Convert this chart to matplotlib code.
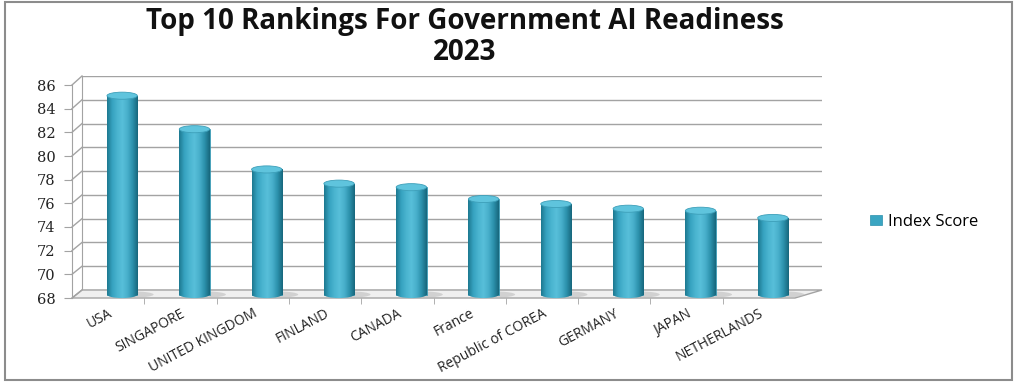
import numpy as np
import matplotlib
matplotlib.use('Agg')
import matplotlib.pyplot as plt
from matplotlib.patches import Ellipse, Polygon, Rectangle
from matplotlib.lines import Line2D
from matplotlib.colors import LinearSegmentedColormap

countries = ['USA', 'SINGAPORE', 'UNITED KINGDOM', 'FINLAND', 'CANADA', 'France',
             'Republic of COREA', 'GERMANY', 'JAPAN', 'NETHERLANDS']
scores = [84.80, 81.97, 78.57, 77.37, 77.07, 76.07, 75.65, 75.25, 75.08, 74.47]
y_ticks = list(range(68, 87, 2))
series_name = 'Index Score'
title = 'Top 10 Rankings For Government AI Readiness\n2023'

W, H = 1016, 382
fig = plt.figure(figsize=(W / 100, H / 100), dpi=100)


def box(x0, y0, x1, y1):
    # pixel box (origin top-left) -> figure fraction rect
    return [x0 / W, 1 - y1 / H, (x1 - x0) / W, (y1 - y0) / H]


def to_fig(ax, x, y):
    return fig.transFigure.inverted().transform(ax.transData.transform((x, y)))


grid_col = '#a3a3a3'
x = np.arange(len(countries))
xlim = (-0.5, len(countries) - 0.5)

# back wall with gridlines
back = fig.add_axes(box(82, 76, 822, 290), zorder=0)
back.set_xlim(*xlim)
back.set_ylim(68, 86)
back.set_yticks(y_ticks)
back.set_xticks([])
back.grid(axis='y', color=grid_col, lw=1)
back.tick_params(left=False, labelleft=False)
for s in ['top', 'right', 'bottom']:
    back.spines[s].set_visible(False)
back.spines['left'].set_color(grid_col)
back.patch.set_alpha(0)

# front plane: ticks and labels
front = fig.add_axes(box(72, 85, 795, 298), zorder=2)
front.set_xlim(*xlim)
front.set_ylim(68, 86)
front.patch.set_alpha(0)
for s in ['top', 'right', 'bottom']:
    front.spines[s].set_visible(False)
front.spines['left'].set_color(grid_col)
front.set_yticks(y_ticks)
front.set_yticklabels([str(v) for v in y_ticks], family='DejaVu Serif', fontsize=10.5)
front.tick_params(axis='y', length=6, color=grid_col, pad=6, labelcolor='#222222')
front.set_xticks(x)
front.set_xticklabels(countries, rotation=28, ha='right', rotation_mode='anchor',
                      family='Open Sans', fontsize=10, color='#222222')
front.set_xticks(np.arange(0.5, len(countries) - 0.5, 1), minor=True)
front.tick_params(axis='x', which='major', length=0, pad=6)
front.tick_params(axis='x', which='minor', length=4, color=grid_col)

# left wall depth lines
for v in y_ticks:
    p1 = to_fig(front, xlim[0], v)
    p2 = to_fig(back, xlim[0], v)
    fig.add_artist(Line2D([p1[0], p2[0]], [p1[1], p2[1]], color=grid_col, lw=1, zorder=0.6))

# floor
floor = [to_fig(front, xlim[0], 68), to_fig(front, xlim[1], 68),
         to_fig(back, xlim[1], 68), to_fig(back, xlim[0], 68)]
fig.add_artist(Polygon(floor, closed=True, transform=fig.transFigure,
                       facecolor='#efefef', edgecolor=grid_col, lw=1, zorder=0.5))

# bars (middle depth plane)
mid = fig.add_axes(box(86, 81.5, 809, 318.2), zorder=1)
mid.set_xlim(*xlim)
mid.set_ylim(66, 86)
mid.axis('off')
mid.patch.set_alpha(0)

bw = 0.42
eh = 0.6
cyl = LinearSegmentedColormap.from_list(
    'cyl', ['#1d7890', '#36a2bf', '#4ab4d0', '#58bfd9', '#48afcb', '#2b90ab', '#17667c'])
grad = np.linspace(0, 1, 128).reshape(1, -1)

heights = np.array(scores) - 68
bars = mid.bar(x, heights, bottom=68, width=bw, color='#3aa5c2', edgecolor='#2a8fab',
               lw=0.5, label=series_name, zorder=2)

for xi, v, patch in zip(x, scores, bars.patches):
    # floor shadow
    mid.add_patch(Ellipse((xi + 0.12, 68), bw * 1.5, eh * 0.9, facecolor='#bdbdbd',
                          edgecolor='none', alpha=0.6, zorder=1))
    im = mid.imshow(grad, extent=(xi - bw / 2, xi + bw / 2, 68, v), aspect='auto',
                    cmap=cyl, zorder=2.1)
    im.set_clip_path(patch)
    bottom = Ellipse((xi, 68), bw, eh, facecolor='none', edgecolor='none', zorder=2)
    mid.add_patch(bottom)
    im2 = mid.imshow(grad, extent=(xi - bw / 2, xi + bw / 2, 68 - eh, 68), aspect='auto',
                     cmap=cyl, zorder=2.1)
    im2.set_clip_path(bottom)
    mid.add_patch(Ellipse((xi, v), bw, eh, facecolor='#5fc4dd', edgecolor='#3d9fb9',
                          lw=0.6, zorder=3))

mid.set_xlim(*xlim)
mid.set_ylim(66, 86)

fig.legend(handles=[bars], labels=[series_name], loc='center left',
           bbox_to_anchor=(855 / W, 1 - 222 / H), frameon=False,
           handlelength=0.7, handleheight=0.6, handletextpad=0.4,
           prop={'family': 'Open Sans', 'size': 12})

fig.text(465 / W, 1 - 37 / H, title, ha='center', va='center', fontsize=20,
         fontweight='bold', family='Open Sans', linespacing=1.05, color='#111111')

fig.add_artist(Rectangle((5 / W, 2 / H), 1007 / W, 378 / H, transform=fig.transFigure,
                         fill=False, edgecolor='#8c8c8c', lw=1.5))

fig.savefig('out.png', dpi=100)
